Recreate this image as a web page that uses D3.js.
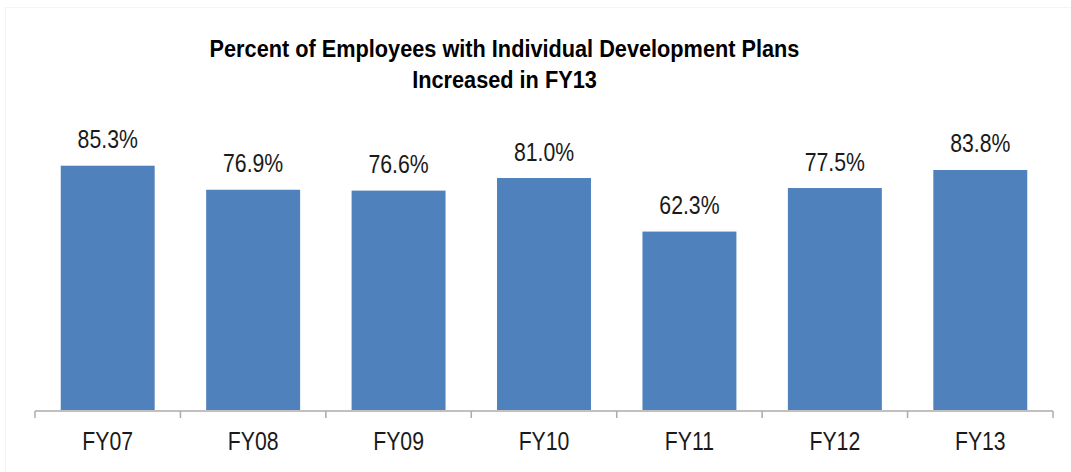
<!DOCTYPE html>
<html>
<head>
<meta charset="utf-8">
<script src="https://cdn.jsdelivr.net/npm/d3@7"></script>
<style>
  html, body { margin: 0; padding: 0; background: #fff; }
  svg { display: block; }
  .narrow { font-family: "Liberation Sans Narrow", "Arial Narrow", "Liberation Sans", Arial, sans-serif; }
</style>
</head>
<body>
<svg id="chart" width="1071" height="472"></svg>
<script>
const titleLines = ["Percent of Employees with Individual Development Plans", "Increased in FY13"];
const categories = ["FY07", "FY08", "FY09", "FY10", "FY11", "FY12", "FY13"];
const values = [85.3, 76.9, 76.6, 81.0, 62.3, 77.5, 83.8];

const svg = d3.select("#chart");
const W = 1071, H = 472;

// faint outer frame (extends past right/bottom edges)
svg.append("rect")
  .attr("x", 5.5).attr("y", 7.5)
  .attr("width", W + 20).attr("height", H + 20)
  .attr("fill", "none").attr("stroke", "#f4f4f4").attr("stroke-width", 1);

const x = d3.scaleBand().domain(categories).range([35, 1053]).paddingInner(0.354).paddingOuter(0.177);
const y = d3.scaleLinear().domain([0, 100]).range([410, 123.6]);

// bars
svg.append("g").selectAll("rect").data(values).join("rect")
  .attr("x", (d, i) => x(categories[i]))
  .attr("width", x.bandwidth())
  .attr("y", d => y(d))
  .attr("height", d => y(0) - y(d))
  .attr("fill", "#4F81BD");

// axis
const axisY = 411;
const ax = svg.append("g").attr("transform", `translate(0,${axisY})`);
ax.append("line").attr("x1", 35).attr("x2", 1053).attr("y1", 0).attr("y2", 0)
  .attr("stroke", "#ababab").attr("stroke-width", 1.5);
const step = x.step();
const boundaries = d3.range(categories.length + 1).map(i => 35 + i * step);
ax.selectAll("line.tick").data(boundaries).join("line").attr("class", "tick")
  .attr("x1", d => d).attr("x2", d => d).attr("y1", 0).attr("y2", 7)
  .attr("stroke", "#ababab").attr("stroke-width", 1.5);

const LABEL_SX = 0.85, TITLE_SX = 0.905;

// category labels
svg.append("g").selectAll("text").data(categories).join("text")
  .attr("class", "narrow")
  .attr("transform", d => `translate(${x(d) + x.bandwidth() / 2},450) scale(${LABEL_SX},1)`)
  .attr("text-anchor", "middle")
  .attr("font-size", 25)
  .attr("fill", "#1a1a1a")
  .text(d => d);

// value labels
svg.append("g").selectAll("text").data(values).join("text")
  .attr("class", "narrow")
  .attr("transform", (d, i) => `translate(${x(categories[i]) + x.bandwidth() / 2},${y(d) - 17.5}) scale(${LABEL_SX},1)`)
  .attr("text-anchor", "middle")
  .attr("font-size", 25)
  .attr("fill", "#1a1a1a")
  .text(d => d.toFixed(1) + "%");

// title
svg.append("g").selectAll("text").data(titleLines).join("text")
  .attr("class", "narrow")
  .attr("transform", (d, i) => `translate(504.5,${57 + i * 31}) scale(${TITLE_SX},1)`)
  .attr("text-anchor", "middle")
  .attr("font-size", 24)
  .attr("font-weight", "bold")
  .attr("fill", "#000")
  .text(d => d);
</script>
</body>
</html>
